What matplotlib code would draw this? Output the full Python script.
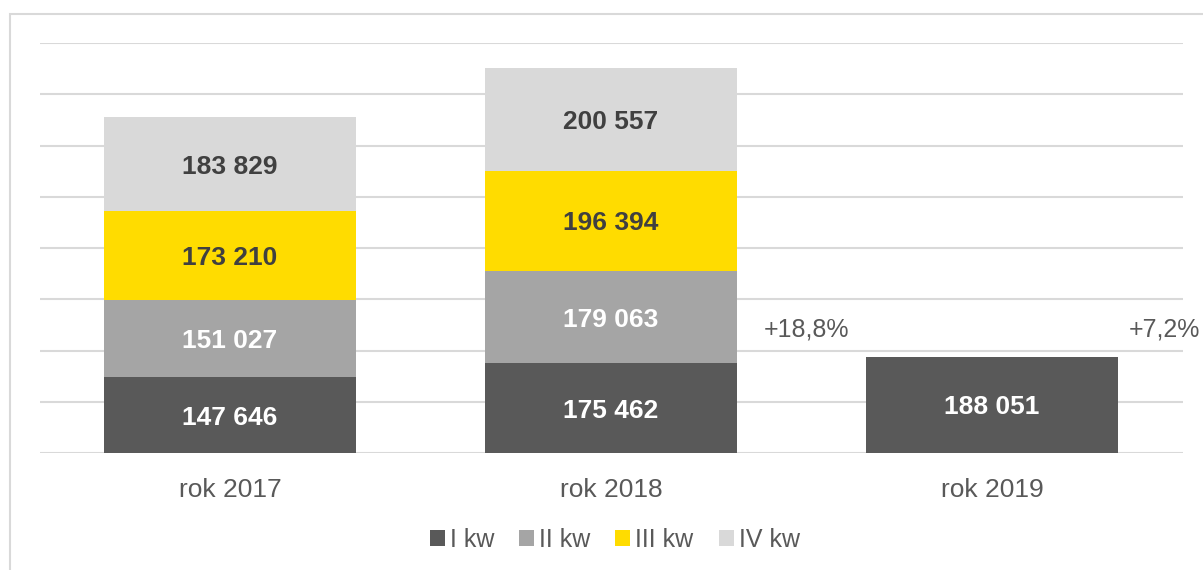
import matplotlib.pyplot as plt
from matplotlib.patches import Rectangle
import numpy as np

plt.rcParams['font.family'] = ['Liberation Sans', 'DejaVu Sans']

# dane
lata = ['rok 2017', 'rok 2018', 'rok 2019']
kwartaly = ['I kw', 'II kw', 'III kw', 'IV kw']
q1 = [147646, 175462, 188051]
q2 = [151027, 179063, 0]
q3 = [173210, 196394, 0]
q4 = [183829, 200557, 0]
wzrost = ['+18,8%', '+7,2%']
wzrost_x = [1.40, 2.36]
wzrost_y = [240000, 240000]

kolory = ['#595959', '#A5A5A5', '#FFDC00', '#D9D9D9']
kolor_tekstu = ['white', 'white', '#404040', '#404040']
szary = '#595959'

fig = plt.figure(figsize=(12.03, 5.70), dpi=100)
ax = fig.add_axes([39.5 / 1203, 1 - 453 / 570, 1143 / 1203, (453 - 43) / 570])

# ramka wykresu (ucięta z prawej i z dołu)
fig.patches.append(Rectangle((10 / 1203, -0.1), 1.2, 1 - 14 / 570 + 0.1,
                             transform=fig.transFigure, fill=False,
                             edgecolor='#D9D9D9', linewidth=1.5, zorder=0))

x = np.arange(len(lata))
dol = np.zeros(len(lata))
for seria, nazwa, kolor, kt in zip([q1, q2, q3, q4], kwartaly, kolory, kolor_tekstu):
    vals = np.array(seria, dtype=float)
    ax.bar(x, vals, bottom=dol, width=0.66, color=kolor, label=nazwa, zorder=3)
    for xi, v, b in zip(x, vals, dol):
        if v > 0:
            ax.text(xi, b + v / 2, f"{int(v):,}".replace(',', ' '), ha='center',
                    va='center_baseline', fontsize=19, fontweight='bold', color=kt, zorder=4)
    dol += vals

for t, tx, ty in zip(wzrost, wzrost_x, wzrost_y):
    ax.text(tx, ty, t, ha='left', va='center', fontsize=18, color=szary, clip_on=False)

ax.set_xlim(-0.5, 2.5)
ax.set_ylim(0, 800000)
ax.set_yticks(np.arange(0, 800001, 100000))
ax.yaxis.grid(True, color='#D9D9D9', linewidth=1.5, zorder=0)
ax.set_axisbelow(True)
ax.tick_params(axis='y', left=False, labelleft=False)
ax.set_xticks(x)
ax.set_xticklabels(lata, fontsize=19, color=szary)
ax.tick_params(axis='x', length=0, pad=18)
for s in ax.spines.values():
    s.set_visible(False)

fig.legend(loc='center', bbox_to_anchor=(0.511, 1 - 540 / 570), ncol=4, frameon=False,
           fontsize=18, labelcolor=szary, handlelength=0.6, handleheight=0.6,
           handletextpad=0.2, columnspacing=1.0)

fig.savefig('out.png', dpi=100)
